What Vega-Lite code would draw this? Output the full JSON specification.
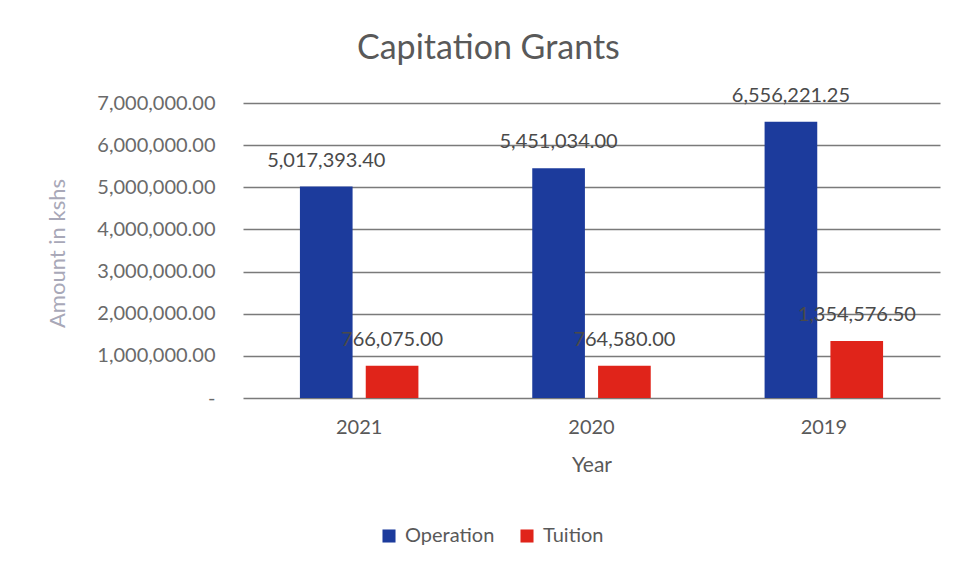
{
  "$schema": "https://vega.github.io/schema/vega-lite/v6.json",
  "autosize": {"type": "none"},
  "width": 697,
  "height": 295,
  "padding": {"left": 243, "top": 103, "right": 18, "bottom": 173},
  "background": "#ffffff",
  "config": {
    "font": "Lato",
    "view": {"stroke": null}
  },
  "title": {
    "text": "Capitation Grants",
    "anchor": "start",
    "frame": "group",
    "dx": 114,
    "offset": 20,
    "fontSize": 34,
    "fontWeight": "normal",
    "color": "#595959",
    "font": "Lato"
  },
  "data": {
    "values": [
      {"Year": "2021", "Series": "Operation", "Amount": 5017393.40},
      {"Year": "2021", "Series": "Tuition", "Amount": 766075.00},
      {"Year": "2020", "Series": "Operation", "Amount": 5451034.00},
      {"Year": "2020", "Series": "Tuition", "Amount": 764580.00},
      {"Year": "2019", "Series": "Operation", "Amount": 6556221.25},
      {"Year": "2019", "Series": "Tuition", "Amount": 1354576.50}
    ]
  },
  "encoding": {
    "x": {
      "field": "Year",
      "type": "nominal",
      "sort": ["2021", "2020", "2019"],
      "scale": {"paddingInner": 0.49, "paddingOuter": 0.245},
      "axis": {
        "title": "Year",
        "labelAngle": 0,
        "labelFontSize": 20,
        "labelColor": "#595959",
        "labelPadding": 19,
        "titleFontSize": 21,
        "titleFontWeight": "normal",
        "titleColor": "#595959",
        "titlePadding": 17,
        "ticks": false,
        "domain": false
      }
    },
    "xOffset": {
      "field": "Series",
      "type": "nominal",
      "scale": {"paddingInner": 0.2, "paddingOuter": 0}
    },
    "y": {
      "field": "Amount",
      "type": "quantitative",
      "scale": {"domain": [0, 7000000], "nice": false},
      "axis": {
        "title": "Amount in kshs",
        "values": [0, 1000000, 2000000, 3000000, 4000000, 5000000, 6000000, 7000000],
        "labelExpr": "datum.value == 0 ? '-' : format(datum.value, ',.2f')",
        "labelOverlap": false,
        "labelFontSize": 20,
        "labelColor": "#6a6a6a",
        "labelPadding": 28,
        "ticks": false,
        "domain": false,
        "grid": true,
        "gridColor": "#7a7a7a",
        "gridWidth": 1.5,
        "titleFontSize": 22,
        "titleFontWeight": "normal",
        "titleColor": "#a8a8b8",
        "titleX": -174,
        "titleY": 150,
        "titleAngle": -90,
        "titleBaseline": "bottom"
      }
    },
    "color": {
      "field": "Series",
      "type": "nominal",
      "scale": {"domain": ["Operation", "Tuition"], "range": ["#1c3b9c", "#e0241a"]},
      "legend": {
        "title": null,
        "orient": "none",
        "direction": "horizontal",
        "legendX": 136,
        "legendY": 423,
        "symbolType": "square",
        "symbolSize": 170,
        "symbolStrokeWidth": 0,
        "labelFontSize": 20,
        "labelColor": "#595959",
        "columnPadding": 22,
        "labelOffset": 6
      }
    }
  },
  "layer": [
    {"mark": {"type": "bar"}},
    {
      "mark": {"type": "text", "dy": -26, "fontSize": 20},
      "encoding": {
        "text": {"field": "Amount", "type": "quantitative", "format": ",.2f"},
        "color": {"value": "#4a4a4a"}
      }
    }
  ]
}
